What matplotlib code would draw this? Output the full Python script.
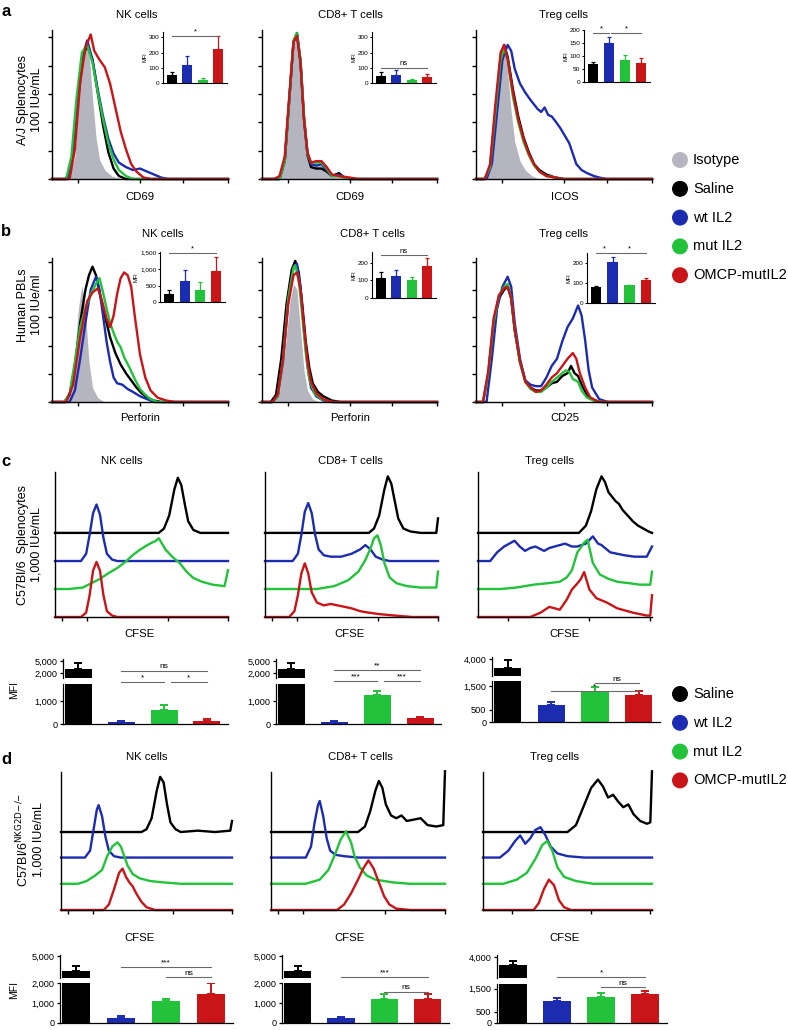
import numpy as np
import matplotlib
matplotlib.use("Agg")
import matplotlib.pyplot as plt

plt.rcParams["font.family"] = ["Liberation Sans", "DejaVu Sans"]

W, H = 788, 1030

GROUPS = ["Isotype", "Saline", "wt IL2", "mut IL2", "OMCP-mutIL2"]
COLORS = ["#b5b5bf", "#000000", "#1c2cb0", "#22c23a", "#c91418"]
COL = dict(zip(GROUPS, COLORS))
TREATED = GROUPS[1:]
CELLS = ["NK cells", "CD8+ T cells", "Treg cells"]

# ---- histogram traces, (x, y), axis fractions ----
A_NK = {
    "Isotype": [(0.06, 0), (0.1, 0.02), (0.13, 0.15), (0.15, 0.5), (0.17, 0.82), (0.19, 0.92), (0.21, 0.85),
                (0.23, 0.55), (0.25, 0.28), (0.27, 0.13), (0.3, 0.06), (0.34, 0.02), (0.4, 0)],
    "Saline": [(0, 0), (0.08, 0), (0.11, 0.1), (0.14, 0.45), (0.17, 0.8), (0.2, 0.9), (0.23, 0.8), (0.26, 0.58),
               (0.29, 0.36), (0.32, 0.18), (0.35, 0.07), (0.38, 0.02), (0.42, 0), (1, 0)],
    "wt IL2": [(0, 0), (0.09, 0), (0.12, 0.15), (0.15, 0.55), (0.18, 0.85), (0.2, 0.93), (0.23, 0.8), (0.26, 0.6),
               (0.29, 0.42), (0.32, 0.27), (0.35, 0.17), (0.38, 0.11), (0.42, 0.08), (0.46, 0.06), (0.5, 0.07),
               (0.54, 0.05), (0.58, 0.03), (0.62, 0.01), (0.66, 0), (1, 0)],
    "mut IL2": [(0, 0), (0.08, 0), (0.11, 0.15), (0.14, 0.55), (0.17, 0.85), (0.2, 0.9), (0.23, 0.78), (0.26, 0.58),
                (0.29, 0.4), (0.32, 0.24), (0.35, 0.13), (0.38, 0.06), (0.42, 0.02), (0.46, 0), (1, 0)],
    "OMCP-mutIL2": [(0, 0), (0.1, 0), (0.13, 0.2), (0.16, 0.65), (0.19, 0.88), (0.22, 0.97), (0.24, 0.86),
                    (0.27, 0.8), (0.3, 0.75), (0.33, 0.64), (0.36, 0.48), (0.39, 0.32), (0.42, 0.2), (0.45, 0.1),
                    (0.48, 0.05), (0.52, 0.01), (0.56, 0), (1, 0)],
}
A_CD8 = {
    "Isotype": [(0.1, 0), (0.13, 0.1), (0.16, 0.55), (0.18, 0.9), (0.2, 0.97), (0.22, 0.75), (0.24, 0.38),
                (0.26, 0.16), (0.28, 0.1), (0.31, 0.1), (0.34, 0.1), (0.37, 0.07), (0.4, 0.03), (0.44, 0.03),
                (0.47, 0.02), (0.5, 0)],
    "Saline": [(0, 0), (0.1, 0), (0.13, 0.12), (0.16, 0.6), (0.18, 0.92), (0.2, 0.98), (0.22, 0.78), (0.24, 0.4),
               (0.26, 0.16), (0.28, 0.08), (0.31, 0.07), (0.34, 0.07), (0.37, 0.05), (0.4, 0.02), (0.44, 0.04),
               (0.47, 0.01), (0.5, 0), (1, 0)],
    "wt IL2": [(0, 0), (0.1, 0), (0.13, 0.12), (0.16, 0.6), (0.18, 0.92), (0.2, 0.97), (0.22, 0.8), (0.24, 0.42),
               (0.26, 0.17), (0.28, 0.1), (0.31, 0.09), (0.34, 0.1), (0.37, 0.06), (0.4, 0.02), (0.44, 0.03),
               (0.47, 0.01), (0.5, 0), (1, 0)],
    "mut IL2": [(0, 0), (0.1, 0), (0.13, 0.12), (0.16, 0.6), (0.18, 0.93), (0.2, 0.98), (0.22, 0.8), (0.24, 0.42),
                (0.26, 0.17), (0.28, 0.11), (0.31, 0.11), (0.34, 0.11), (0.37, 0.07), (0.4, 0.02), (0.44, 0.02),
                (0.5, 0), (1, 0)],
    "OMCP-mutIL2": [(0, 0), (0.07, 0), (0.1, 0.02), (0.13, 0.15), (0.16, 0.62), (0.18, 0.92), (0.2, 0.96),
                    (0.22, 0.78), (0.24, 0.4), (0.26, 0.18), (0.28, 0.11), (0.31, 0.12), (0.34, 0.12), (0.37, 0.08),
                    (0.4, 0.03), (0.44, 0.02), (0.5, 0.01), (0.55, 0), (1, 0)],
}
A_TREG = {
    "Isotype": [(0.06, 0), (0.09, 0.1), (0.12, 0.5), (0.14, 0.8), (0.16, 0.88), (0.18, 0.72), (0.2, 0.45),
                (0.22, 0.25), (0.25, 0.12), (0.28, 0.06), (0.32, 0.02), (0.36, 0)],
    "Saline": [(0, 0), (0.05, 0), (0.08, 0.08), (0.11, 0.45), (0.14, 0.82), (0.16, 0.9), (0.18, 0.82), (0.21, 0.6),
               (0.24, 0.42), (0.27, 0.28), (0.3, 0.18), (0.33, 0.1), (0.36, 0.06), (0.4, 0.03), (0.45, 0.01),
               (0.5, 0), (1, 0)],
    "wt IL2": [(0, 0), (0.06, 0), (0.09, 0.1), (0.12, 0.45), (0.15, 0.8), (0.18, 0.9), (0.2, 0.86), (0.22, 0.74),
               (0.25, 0.64), (0.28, 0.58), (0.31, 0.53), (0.33, 0.5), (0.35, 0.47), (0.37, 0.45), (0.39, 0.48),
               (0.41, 0.43), (0.43, 0.42), (0.45, 0.39), (0.48, 0.34), (0.51, 0.28), (0.53, 0.24), (0.55, 0.17),
               (0.57, 0.1), (0.6, 0.06), (0.63, 0.04), (0.67, 0.02), (0.7, 0.01), (0.74, 0), (1, 0)],
    "mut IL2": [(0, 0), (0.05, 0), (0.08, 0.08), (0.11, 0.45), (0.14, 0.8), (0.16, 0.88), (0.18, 0.8), (0.21, 0.55),
                (0.24, 0.38), (0.27, 0.25), (0.3, 0.16), (0.33, 0.09), (0.36, 0.05), (0.4, 0.02), (0.45, 0.01),
                (0.5, 0), (1, 0)],
    "OMCP-mutIL2": [(0, 0), (0.05, 0), (0.08, 0.1), (0.11, 0.5), (0.14, 0.85), (0.16, 0.9), (0.18, 0.8),
                    (0.21, 0.58), (0.24, 0.4), (0.27, 0.27), (0.3, 0.17), (0.33, 0.1), (0.36, 0.05), (0.4, 0.02),
                    (0.45, 0.01), (0.5, 0), (1, 0)],
}
B_NK = {
    "Isotype": [(0.08, 0), (0.11, 0.1), (0.13, 0.35), (0.15, 0.65), (0.17, 0.81), (0.19, 0.62), (0.21, 0.28),
                (0.23, 0.1), (0.26, 0.03), (0.3, 0)],
    "Saline": [(0, 0), (0.07, 0), (0.1, 0.05), (0.13, 0.25), (0.16, 0.55), (0.19, 0.78), (0.21, 0.88), (0.23, 0.94),
               (0.25, 0.88), (0.27, 0.76), (0.3, 0.6), (0.33, 0.45), (0.36, 0.34), (0.39, 0.26), (0.42, 0.2),
               (0.45, 0.15), (0.48, 0.1), (0.51, 0.06), (0.54, 0.03), (0.58, 0.01), (0.62, 0), (1, 0)],
    "wt IL2": [(0, 0), (0.1, 0), (0.13, 0.08), (0.16, 0.3), (0.19, 0.55), (0.22, 0.78), (0.25, 0.87), (0.27, 0.78),
               (0.29, 0.6), (0.31, 0.42), (0.33, 0.28), (0.35, 0.17), (0.37, 0.13), (0.4, 0.12), (0.43, 0.09),
               (0.46, 0.07), (0.5, 0.04), (0.54, 0.02), (0.58, 0), (1, 0)],
    "mut IL2": [(0, 0), (0.07, 0), (0.1, 0.06), (0.13, 0.28), (0.16, 0.52), (0.19, 0.65), (0.22, 0.75), (0.25, 0.82),
                (0.27, 0.86), (0.29, 0.76), (0.31, 0.65), (0.33, 0.55), (0.35, 0.48), (0.37, 0.42), (0.39, 0.38),
                (0.41, 0.31), (0.44, 0.24), (0.47, 0.16), (0.5, 0.09), (0.53, 0.05), (0.56, 0.02), (0.6, 0), (1, 0)],
    "OMCP-mutIL2": [(0, 0), (0.08, 0), (0.12, 0.12), (0.16, 0.45), (0.2, 0.7), (0.23, 0.76), (0.26, 0.79),
                    (0.28, 0.72), (0.31, 0.58), (0.33, 0.52), (0.35, 0.6), (0.37, 0.75), (0.39, 0.86), (0.41, 0.9),
                    (0.43, 0.88), (0.45, 0.8), (0.47, 0.6), (0.5, 0.33), (0.53, 0.17), (0.56, 0.08), (0.6, 0.03),
                    (0.65, 0.01), (0.7, 0), (1, 0)],
}
B_CD8 = {
    "Isotype": [(0.07, 0), (0.1, 0.08), (0.13, 0.35), (0.16, 0.7), (0.18, 0.82), (0.2, 0.78), (0.22, 0.5),
                (0.24, 0.22), (0.26, 0.08), (0.29, 0.02), (0.33, 0)],
    "Saline": [(0, 0), (0.05, 0), (0.08, 0.05), (0.11, 0.3), (0.14, 0.68), (0.17, 0.92), (0.19, 0.98), (0.21, 0.9),
               (0.23, 0.68), (0.25, 0.42), (0.27, 0.24), (0.29, 0.13), (0.32, 0.07), (0.35, 0.04), (0.4, 0.01),
               (0.45, 0), (1, 0)],
    "wt IL2": [(0, 0), (0.06, 0), (0.09, 0.04), (0.12, 0.28), (0.15, 0.7), (0.18, 0.94), (0.2, 0.96), (0.22, 0.8),
               (0.24, 0.5), (0.26, 0.25), (0.28, 0.1), (0.31, 0.04), (0.35, 0.01), (0.4, 0), (1, 0)],
    "mut IL2": [(0, 0), (0.06, 0), (0.09, 0.04), (0.12, 0.3), (0.15, 0.72), (0.18, 0.93), (0.19, 0.95),
                (0.21, 0.85), (0.23, 0.6), (0.25, 0.34), (0.27, 0.16), (0.3, 0.06), (0.34, 0.02), (0.4, 0), (1, 0)],
    "OMCP-mutIL2": [(0, 0), (0.06, 0), (0.09, 0.05), (0.12, 0.3), (0.15, 0.68), (0.18, 0.88), (0.2, 0.9),
                    (0.22, 0.78), (0.24, 0.52), (0.26, 0.28), (0.28, 0.14), (0.31, 0.06), (0.35, 0.02), (0.4, 0),
                    (1, 0)],
}
B_TREG = {
    "Saline": [(0, 0), (0.04, 0), (0.07, 0.2), (0.1, 0.55), (0.13, 0.72), (0.16, 0.78), (0.18, 0.8), (0.2, 0.72),
               (0.22, 0.5), (0.25, 0.28), (0.28, 0.15), (0.31, 0.1), (0.34, 0.08), (0.37, 0.08), (0.4, 0.1),
               (0.43, 0.13), (0.46, 0.14), (0.49, 0.18), (0.52, 0.2), (0.54, 0.25), (0.56, 0.2), (0.58, 0.18),
               (0.6, 0.12), (0.63, 0.05), (0.67, 0.01), (0.72, 0), (1, 0)],
    "mut IL2": [(0, 0), (0.04, 0), (0.07, 0.2), (0.1, 0.55), (0.13, 0.74), (0.16, 0.8), (0.18, 0.82), (0.2, 0.72),
                (0.22, 0.5), (0.25, 0.27), (0.28, 0.14), (0.31, 0.09), (0.34, 0.07), (0.37, 0.07), (0.4, 0.1),
                (0.43, 0.14), (0.46, 0.17), (0.49, 0.2), (0.51, 0.22), (0.53, 0.21), (0.55, 0.16), (0.58, 0.14),
                (0.6, 0.08), (0.63, 0.03), (0.67, 0.01), (0.72, 0), (1, 0)],
    "wt IL2": [(0, 0), (0.06, 0), (0.09, 0.3), (0.12, 0.65), (0.15, 0.8), (0.18, 0.87), (0.2, 0.8), (0.22, 0.55),
               (0.25, 0.3), (0.28, 0.15), (0.31, 0.12), (0.34, 0.11), (0.37, 0.11), (0.4, 0.17), (0.43, 0.25),
               (0.46, 0.3), (0.49, 0.42), (0.52, 0.52), (0.55, 0.58), (0.58, 0.67), (0.6, 0.6), (0.62, 0.43),
               (0.64, 0.22), (0.66, 0.1), (0.7, 0.02), (0.75, 0), (1, 0)],
    "OMCP-mutIL2": [(0, 0), (0.04, 0), (0.07, 0.22), (0.1, 0.58), (0.13, 0.74), (0.16, 0.79), (0.18, 0.8),
                    (0.2, 0.72), (0.22, 0.5), (0.25, 0.28), (0.28, 0.14), (0.31, 0.1), (0.34, 0.07), (0.37, 0.08),
                    (0.4, 0.12), (0.43, 0.17), (0.46, 0.2), (0.49, 0.25), (0.52, 0.3), (0.55, 0.34), (0.57, 0.3),
                    (0.59, 0.2), (0.62, 0.1), (0.65, 0.03), (0.7, 0), (1, 0)],
}

# CFSE traces: heights above each trace's own baseline
C_NK = {
    "Saline": [(0, 0), (0.6, 0), (0.63, 0.03), (0.66, 0.12), (0.69, 0.3), (0.71, 0.38), (0.73, 0.33), (0.75, 0.2),
               (0.77, 0.08), (0.8, 0.02), (0.84, 0), (1, 0)],
    "wt IL2": [(0, 0), (0.15, 0), (0.18, 0.05), (0.2, 0.18), (0.22, 0.33), (0.24, 0.39), (0.26, 0.32), (0.28, 0.16),
               (0.3, 0.05), (0.33, 0.01), (0.36, 0), (1, 0)],
    "mut IL2": [(0, 0), (0.08, 0), (0.16, 0.01), (0.21, 0.04), (0.26, 0.07), (0.31, 0.11), (0.36, 0.145),
                (0.41, 0.19), (0.45, 0.235), (0.49, 0.27), (0.53, 0.3), (0.56, 0.32), (0.58, 0.33), (0.6, 0.35),
                (0.62, 0.31), (0.64, 0.27), (0.68, 0.22), (0.72, 0.18), (0.76, 0.12), (0.8, 0.076), (0.85, 0.05),
                (0.91, 0.03), (0.98, 0.02), (1, 0.13)],
    "OMCP-mutIL2": [(0, 0), (0.15, 0), (0.18, 0.03), (0.2, 0.15), (0.22, 0.32), (0.24, 0.38), (0.26, 0.32),
                    (0.28, 0.15), (0.3, 0.04), (0.33, 0.01), (0.36, 0), (1, 0)],
}
C_CD8 = {
    "Saline": [(0, 0), (0.6, 0), (0.63, 0.03), (0.66, 0.12), (0.69, 0.3), (0.71, 0.39), (0.73, 0.34), (0.75, 0.22),
               (0.77, 0.1), (0.8, 0.03), (0.84, 0.01), (0.9, 0), (0.99, 0), (1, 0.1)],
    "wt IL2": [(0, 0), (0.16, 0), (0.19, 0.05), (0.21, 0.18), (0.23, 0.34), (0.25, 0.4), (0.27, 0.33), (0.29, 0.18),
               (0.31, 0.08), (0.34, 0.04), (0.38, 0.03), (0.44, 0.03), (0.5, 0.05), (0.55, 0.08), (0.58, 0.11),
               (0.61, 0.08), (0.64, 0.03), (0.68, 0.01), (0.72, 0), (1, 0)],
    "mut IL2": [(0, 0), (0.3, 0), (0.4, 0.02), (0.48, 0.06), (0.54, 0.12), (0.58, 0.2), (0.61, 0.28), (0.63, 0.35),
                (0.65, 0.37), (0.67, 0.3), (0.69, 0.18), (0.72, 0.08), (0.76, 0.04), (0.82, 0.02), (0.9, 0.01),
                (0.99, 0.01), (1, 0.12)],
    "OMCP-mutIL2": [(0, 0), (0.14, 0), (0.17, 0.04), (0.19, 0.15), (0.21, 0.3), (0.23, 0.37), (0.25, 0.3),
                    (0.27, 0.17), (0.3, 0.1), (0.34, 0.08), (0.38, 0.09), (0.42, 0.08), (0.46, 0.07), (0.5, 0.06),
                    (0.55, 0.04), (0.6, 0.03), (0.66, 0.02), (0.75, 0.01), (0.85, 0), (1, 0)],
}
C_TREG = {
    "Saline": [(0, 0), (0.58, 0), (0.62, 0.05), (0.65, 0.15), (0.68, 0.3), (0.71, 0.39), (0.73, 0.35), (0.75, 0.28),
               (0.77, 0.25), (0.79, 0.22), (0.81, 0.2), (0.83, 0.16), (0.86, 0.12), (0.89, 0.08), (0.92, 0.05),
               (0.95, 0.03), (0.98, 0.01), (1, 0)],
    "wt IL2": [(0, 0), (0.07, 0), (0.11, 0.06), (0.15, 0.1), (0.21, 0.14), (0.24, 0.1), (0.27, 0.07), (0.3, 0.09),
               (0.33, 0.1), (0.38, 0.07), (0.41, 0.09), (0.44, 0.1), (0.5, 0.12), (0.54, 0.1), (0.57, 0.1),
               (0.62, 0.12), (0.66, 0.17), (0.69, 0.12), (0.71, 0.11), (0.76, 0.06), (0.8, 0.05), (0.84, 0.04),
               (0.9, 0.03), (0.97, 0.03), (1, 0.1)],
    "mut IL2": [(0, 0), (0.13, 0), (0.22, 0.01), (0.32, 0.03), (0.4, 0.04), (0.47, 0.05), (0.51, 0.08),
                (0.54, 0.13), (0.57, 0.25), (0.61, 0.32), (0.63, 0.34), (0.66, 0.18), (0.7, 0.1), (0.75, 0.07),
                (0.8, 0.05), (0.87, 0.04), (0.93, 0.03), (0.99, 0.03), (1, 0.12)],
    "OMCP-mutIL2": [(0, 0), (0.3, 0), (0.36, 0.03), (0.41, 0.07), (0.44, 0.06), (0.47, 0.05), (0.51, 0.12),
                    (0.54, 0.19), (0.57, 0.23), (0.59, 0.26), (0.61, 0.31), (0.64, 0.19), (0.68, 0.13), (0.74, 0.1),
                    (0.8, 0.06), (0.89, 0.03), (0.97, 0.01), (0.99, 0.01), (1, 0.15)],
}
D_NK = {
    "Saline": [(0, 0), (0.47, 0), (0.5, 0.02), (0.53, 0.1), (0.56, 0.3), (0.58, 0.4), (0.6, 0.36), (0.62, 0.2),
               (0.64, 0.07), (0.67, 0.02), (0.7, 0), (0.8, 0.01), (0.9, 0), (0.99, 0.01), (1, 0.08)],
    "wt IL2": [(0, 0), (0.14, 0), (0.17, 0.05), (0.19, 0.2), (0.21, 0.35), (0.22, 0.38), (0.24, 0.3), (0.26, 0.15),
               (0.28, 0.05), (0.31, 0.01), (0.35, 0), (1, 0)],
    "mut IL2": [(0, 0), (0.1, 0), (0.15, 0.02), (0.2, 0.06), (0.24, 0.1), (0.27, 0.2), (0.3, 0.27), (0.33, 0.3),
                (0.35, 0.27), (0.37, 0.2), (0.39, 0.13), (0.42, 0.07), (0.46, 0.04), (0.52, 0.02), (0.6, 0.01),
                (0.7, 0), (1, 0)],
    "OMCP-mutIL2": [(0, 0), (0.25, 0), (0.28, 0.04), (0.31, 0.15), (0.34, 0.27), (0.36, 0.3), (0.38, 0.24),
                    (0.4, 0.2), (0.42, 0.17), (0.44, 0.12), (0.47, 0.06), (0.5, 0.02), (0.55, 0), (1, 0)],
}
D_CD8 = {
    "Saline": [(0, 0), (0.5, 0), (0.54, 0.04), (0.57, 0.15), (0.6, 0.3), (0.62, 0.37), (0.64, 0.32), (0.66, 0.2),
               (0.69, 0.12), (0.72, 0.1), (0.75, 0.12), (0.78, 0.08), (0.82, 0.09), (0.86, 0.1), (0.9, 0.05),
               (0.95, 0.04), (0.99, 0.05), (1, 0.44)],
    "wt IL2": [(0, 0), (0.2, 0), (0.23, 0.08), (0.25, 0.25), (0.27, 0.38), (0.28, 0.41), (0.3, 0.3), (0.32, 0.14),
               (0.34, 0.05), (0.37, 0.02), (0.42, 0.01), (0.5, 0), (1, 0)],
    "mut IL2": [(0, 0), (0.2, 0), (0.28, 0.03), (0.33, 0.1), (0.37, 0.22), (0.4, 0.32), (0.43, 0.38), (0.46, 0.3),
                (0.48, 0.2), (0.51, 0.12), (0.55, 0.06), (0.6, 0.03), (0.7, 0.01), (0.8, 0), (1, 0)],
    "OMCP-mutIL2": [(0, 0), (0.38, 0), (0.42, 0.04), (0.46, 0.12), (0.5, 0.22), (0.53, 0.3), (0.56, 0.36),
                    (0.59, 0.3), (0.62, 0.2), (0.65, 0.1), (0.68, 0.04), (0.72, 0.01), (0.8, 0), (1, 0)],
}
D_TREG = {
    "Saline": [(0, 0), (0.5, 0), (0.55, 0.05), (0.6, 0.2), (0.64, 0.32), (0.68, 0.38), (0.71, 0.33), (0.74, 0.25),
               (0.77, 0.27), (0.8, 0.22), (0.83, 0.18), (0.86, 0.2), (0.89, 0.13), (0.93, 0.08), (0.97, 0.06),
               (0.99, 0.07), (1, 0.44)],
    "wt IL2": [(0, 0), (0.1, 0), (0.15, 0.05), (0.19, 0.12), (0.22, 0.16), (0.25, 0.1), (0.28, 0.14), (0.31, 0.2),
               (0.34, 0.22), (0.37, 0.16), (0.4, 0.08), (0.44, 0.03), (0.5, 0.01), (0.6, 0), (1, 0)],
    "mut IL2": [(0, 0), (0.12, 0), (0.2, 0.03), (0.26, 0.08), (0.31, 0.18), (0.35, 0.28), (0.38, 0.31),
                (0.41, 0.24), (0.44, 0.12), (0.48, 0.05), (0.55, 0.02), (0.65, 0), (1, 0)],
    "OMCP-mutIL2": [(0, 0), (0.3, 0), (0.33, 0.05), (0.36, 0.15), (0.39, 0.22), (0.42, 0.18), (0.45, 0.07),
                    (0.48, 0.02), (0.52, 0), (1, 0)],
}

# ---- MFI bar values (Saline, wt IL2, mut IL2, OMCP-mutIL2) ----
A_NK_MFI, A_NK_ERR = [55, 115, 22, 225], [15, 60, 8, 85]
A_CD8_MFI, A_CD8_ERR = [45, 50, 18, 38], [30, 35, 10, 22]
A_TREG_MFI, A_TREG_ERR = [70, 150, 85, 75], [8, 25, 20, 17]
B_NK_MFI, B_NK_ERR = [250, 650, 380, 940], [130, 330, 230, 440]
B_CD8_MFI, B_CD8_ERR = [115, 125, 100, 180], [35, 35, 20, 50]
B_TREG_MFI, B_TREG_ERR = [80, 205, 88, 115], [3, 25, 3, 10]
C_NK_MFI, C_NK_ERR = [3000, 100, 600, 130], [1600, 50, 220, 80]
C_CD8_MFI, C_CD8_ERR = [3000, 100, 1250, 250], [1600, 40, 200, 60]
C_TREG_MFI, C_TREG_ERR = [3000, 700, 1250, 1100], [900, 150, 200, 200]
D_NK_MFI, D_NK_ERR = [3300, 250, 1100, 1450], [600, 100, 120, 550]
D_CD8_MFI, D_CD8_ERR = [3300, 230, 1200, 1200], [600, 70, 250, 250]
D_TREG_MFI, D_TREG_ERR = [3200, 960, 1130, 1260], [400, 130, 170, 140]

fig = plt.figure(figsize=(W / 100, H / 100), dpi=100)
over = fig.add_axes([0, 0, 1, 1])
over.set_xlim(0, W)
over.set_ylim(H, 0)
over.axis("off")


def px_axes(x0, y0, x1, y1):
    return fig.add_axes([x0 / W, 1 - y1 / H, (x1 - x0) / W, (y1 - y0) / H])


def hist_panel(box, curves, xticks, yticks=None, offsets=None):
    ax = px_axes(*box)
    ax.set_xlim(0, 1)
    ax.set_ylim(0, 1)
    ax.patch.set_alpha(0)
    for s in ("top", "right"):
        ax.spines[s].set_visible(False)
    for s in ("left", "bottom"):
        ax.spines[s].set_linewidth(1.0)
    ax.set_xticks(xticks)
    ax.set_yticks(yticks if yticks is not None else [])
    ax.tick_params(length=3, width=1.0, labelbottom=False, labelleft=False)
    for g in GROUPS:
        if g not in curves:
            continue
        xs, ys = np.array(curves[g]).T
        if offsets is not None:
            ys = ys + offsets[g]
        if g == "Isotype":
            ax.fill_between(xs, 0, ys, color=COL[g], lw=0, zorder=1)
        else:
            ax.plot(xs, ys, color=COL[g], lw=1.7, zorder=2, solid_joinstyle="round", clip_on=False)
    return ax


def draw_bars(ax, vals, errs, cap=2.0, elw=1.0, idx=(0, 1, 2, 3)):
    for i in idx:
        c = COL[TREATED[i]]
        ax.bar(i, vals[i], width=0.63, color=c, zorder=2)
        ax.errorbar(i, vals[i], yerr=[[0], [errs[i]]], fmt="none", ecolor=c, elinewidth=elw, capsize=cap,
                    capthick=elw, zorder=2)


def sig(ax, i, j, y, label, fs, trans=None):
    kw = {} if trans is None else {"transform": trans}
    ax.plot([i, j], [y, y], color="#6a6a6a", lw=0.8, clip_on=False, **kw)
    ax.annotate(label, ((i + j) / 2, y), xycoords=trans if trans is not None else "data",
                xytext=(0, 0.3), textcoords="offset points", ha="center", va="bottom", fontsize=fs,
                annotation_clip=False)


def inset(box, vals, errs, ylim, yticks, ylabels, sigs):
    ax = px_axes(*box)
    draw_bars(ax, vals, errs, cap=1.6, elw=0.9)
    ax.set_xlim(-0.55, 3.55)
    ax.set_ylim(*ylim)
    for s in ("top", "right"):
        ax.spines[s].set_visible(False)
    ax.spines["left"].set_linewidth(0.8)
    ax.spines["bottom"].set_linewidth(0.8)
    ax.set_xticks([])
    ax.set_yticks(yticks)
    ax.set_yticklabels(ylabels, fontsize=4.6)
    ax.tick_params(axis="y", length=1.6, width=0.7, pad=1)
    ax.set_ylabel("MFI", fontsize=4.0, labelpad=1)
    for i, j, y, lab in sigs:
        sig(ax, i, j, y, lab, 5.5)


def broken(xr, upper_y, lower_y, upper_lim, lower_lim, upper_ticks, lower_ticks, vals, errs, sigs):
    up = px_axes(xr[0], upper_y[0], xr[1], upper_y[1])
    lo = px_axes(xr[0], lower_y[0], xr[1], lower_y[1])
    # only the Saline bar reaches the upper segment
    draw_bars(up, vals, errs, cap=3.0, elw=1.4, idx=(0,))
    draw_bars(lo, vals, errs, cap=3.0, elw=1.4)
    for ax, lim, ticks in ((up, upper_lim, upper_ticks), (lo, lower_lim, lower_ticks)):
        ax.set_xlim(-0.36, 3.49)
        ax.set_ylim(*lim)
        ax.set_xticks([])
        ax.set_yticks(ticks)
        ax.set_yticklabels([f"{t:,}" for t in ticks], fontsize=6.6)
        ax.tick_params(axis="y", length=2.5, width=0.9, pad=1.5)
        for s in ("top", "right"):
            ax.spines[s].set_visible(False)
        ax.spines["left"].set_linewidth(0.9)
        ax.spines["bottom"].set_linewidth(0.9)
        ax.patch.set_alpha(0)
    up.spines["bottom"].set_visible(False)
    for i, j, yf, lab in sigs:
        sig(lo, i, j, yf, lab, 6.0, trans=lo.get_xaxis_transform())
    return up, lo


# ---- layout boxes (pixels) ----
COLS_AB = [(52, 228), (262, 437), (476, 652)]
COLS_C = [(55, 228), (265, 438), (478, 652)]
COLS_D = [(61, 232), (271, 445), (483, 652)]
XT_AB = [0.148, 0.5, 0.744, 1.0]
XT_CD = [0.04, 0.185, 0.653, 1.0]
XT_TREG_CD = [0.17, 0.64, 0.99]
YT_A = [0, 0.19, 0.38, 0.57, 0.76, 0.953]
YT_B = [0, 0.194, 0.39, 0.59, 0.78, 0.97]
OFFS_C = {"Saline": 0.58, "wt IL2": 0.386, "mut IL2": 0.193, "OMCP-mutIL2": 0.0}
OFFS_D = {"Saline": 0.565, "wt IL2": 0.38, "mut IL2": 0.19, "OMCP-mutIL2": 0.0}

for (x0, x1), cur in zip(COLS_AB, [A_NK, A_CD8, A_TREG]):
    hist_panel((x0, 30, x1, 179), cur, XT_AB, YT_A)
for (x0, x1), cur in zip(COLS_AB, [B_NK, B_CD8, B_TREG]):
    hist_panel((x0, 258, x1, 402), cur, XT_AB, YT_B)
for k, ((x0, x1), cur) in enumerate(zip(COLS_C, [C_NK, C_CD8, C_TREG])):
    hist_panel((x0, 472, x1, 617), cur, XT_TREG_CD if k == 2 else XT_CD, None, OFFS_C)
for k, ((x0, x1), cur) in enumerate(zip(COLS_D, [D_NK, D_CD8, D_TREG])):
    hist_panel((x0, 772, x1, 910), cur, XT_TREG_CD if k == 2 else XT_CD, None, OFFS_D)

# insets
inset((163, 32, 227, 83), A_NK_MFI, A_NK_ERR, (0, 335), [0, 100, 200, 300], ["0", "100", "200", "300"],
      [(0, 3, 310, "*")])
inset((372, 32, 436, 83), A_CD8_MFI, A_CD8_ERR, (0, 335), [0, 100, 200, 300], ["0", "100", "200", "300"],
      [(0, 3, 100, "ns")])
inset((584, 30, 650, 82), A_TREG_MFI, A_TREG_ERR, (0, 200), [0, 50, 100, 150, 200],
      ["0", "50", "100", "150", "200"], [(0, 1, 190, "*"), (1.15, 3, 190, "*")])
inset((160, 252, 225, 302), B_NK_MFI, B_NK_ERR, (0, 1520), [0, 500, 1000, 1500], ["0", "500", "1,000", "1,500"],
      [(0, 3, 1500, "*")])
inset((372, 252, 436, 298), B_CD8_MFI, B_CD8_ERR, (0, 262), [0, 100, 200], ["0", "100", "200"],
      [(0, 3, 245, "ns")])
inset((587, 253, 655, 303), B_TREG_MFI, B_TREG_ERR, (0, 250), [0, 100, 200], ["0", "100", "200"],
      [(0, 1, 250, "*"), (1, 3, 250, "*")])

# broken-axis MFI bars
broken((63, 228), (659, 678), (684, 724), (800, 5600), (0, 1740), [2000, 5000], [0, 1000],
       C_NK_MFI, C_NK_ERR, [(1, 2, 1.05, "*"), (2.15, 3, 1.05, "*"), (1, 3, 1.33, "ns")])
broken((276, 441), (659, 678), (684, 724), (800, 5600), (0, 1740), [2000, 5000], [0, 1000],
       C_CD8_MFI, C_CD8_ERR, [(1, 2, 1.08, "***"), (2.15, 3, 1.08, "***"), (1, 3, 1.35, "**")])
broken((492, 660), (657, 676), (681, 722), (2000, 4300), (0, 1700), [4000], [0, 500, 1500],
       C_TREG_MFI, C_TREG_ERR, [(1, 3, 0.75, "*"), (2, 3, 0.95, "ns")])
broken((60, 233), (955, 978), (983, 1023), (2500, 5100), (0, 2000), [5000], [0, 1000, 2000],
       D_NK_MFI, D_NK_ERR, [(1, 3, 1.4, "***"), (2, 3, 1.15, "ns")])
broken((282, 449), (955, 978), (983, 1023), (2500, 5100), (0, 2000), [5000], [0, 1000, 2000],
       D_CD8_MFI, D_CD8_ERR, [(1, 3, 1.15, "***"), (2, 3, 0.78, "ns")])
broken((497, 667), (955, 978), (984, 1023), (2000, 4200), (0, 1700), [4000], [0, 500, 1500],
       D_TREG_MFI, D_TREG_ERR, [(1, 3, 1.18, "*"), (2, 3, 0.92, "ns")])

# ---- text ----
for lab, y in zip("abcd", [12, 232, 461, 760]):
    over.text(6, y, lab, fontsize=12, fontweight="bold", ha="center", va="center")

for row_y, xs in [(15, [137, 350, 564]), (234, [163, 372, 564]), (461, [122, 350, 550]), (757, [147, 360, 555])]:
    for x, t in zip(xs, CELLS):
        over.text(x, row_y, t, fontsize=8.2, ha="center", va="center")

for row_y, labs in [(197, ["CD69", "CD69", "ICOS"]), (418, ["Perforin", "Perforin", "CD25"]),
                    (634, ["CFSE"] * 3), (938, ["CFSE"] * 3)]:
    for x, t in zip([140, 350, 565], labs):
        over.text(x, row_y, t, fontsize=8.2, ha="center", va="center")

over.text(30, 100, "A/J Splenocytes\n100 IUe/mL", rotation=90, fontsize=9, ha="center", va="center",
          linespacing=1.15)
over.text(30, 305, "Human PBLs\n100 IUe/ml", rotation=90, fontsize=9, ha="center", va="center",
          linespacing=1.15)
over.text(30, 545, "C57Bl/6  Splenocytes\n1,000 IUe/mL", rotation=90, fontsize=9, ha="center", va="center",
          linespacing=1.15)
over.text(30, 840, "C57Bl/6$^{\\mathrm{NKG2D}{-}/{-}}$\n1,000 IUe/mL", rotation=90, fontsize=9, ha="center",
          va="center", linespacing=1.15)
over.text(14, 690, "MFI", rotation=90, fontsize=7.5, ha="center", va="center")
over.text(14, 990, "MFI", rotation=90, fontsize=7.5, ha="center", va="center")

# legends
for groups, y0 in [(GROUPS, 160), (TREATED, 694)]:
    ys = y0 + 28.8 * np.arange(len(groups))
    over.scatter(np.full(len(groups), 680), ys, s=110, c=[COL[g] for g in groups], zorder=3)
    for g, y in zip(groups, ys):
        over.text(693, y, g, fontsize=10.5, ha="left", va="center")

fig.savefig("out.png", dpi=100)
